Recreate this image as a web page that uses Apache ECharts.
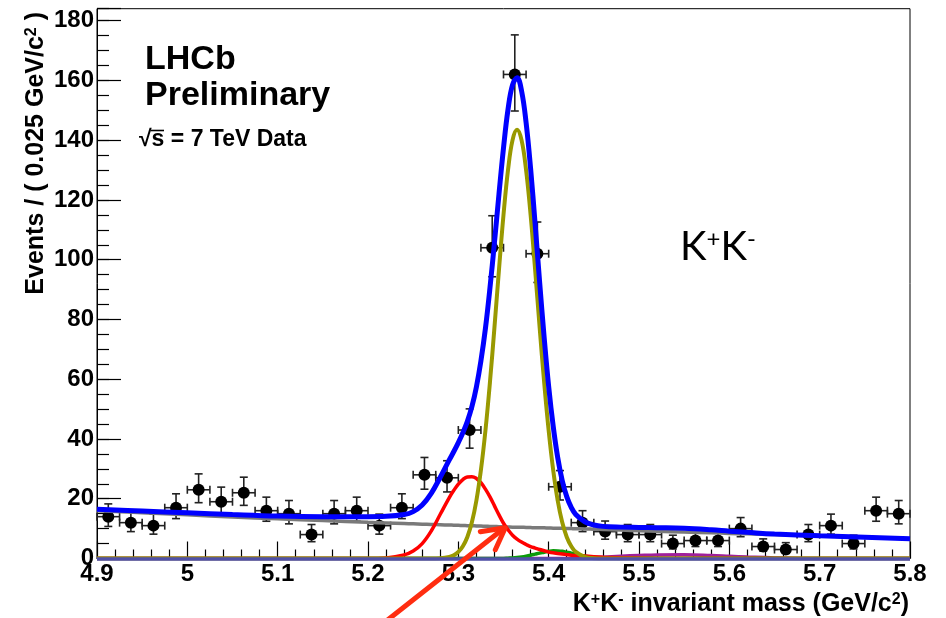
<!DOCTYPE html>
<html>
<head>
<meta charset="utf-8">
<script src="https://cdn.jsdelivr.net/npm/echarts@6/dist/echarts.min.js"></script>
<style>
  html, body { margin: 0; padding: 0; background: #ffffff; }
  #chart { width: 946px; height: 618px; }
</style>
</head>
<body>
<div id="chart"></div>
<script>
// Binned K+K- candidates, 0.025 GeV/c^2 per bin
const binCenters = [4.9125, 4.9375, 4.9625, 4.9875, 5.0125, 5.0375, 5.0625, 5.0875, 5.1125,
  5.1375, 5.1625, 5.1875, 5.2125, 5.2375, 5.2625, 5.2875, 5.3125, 5.3375, 5.3625, 5.3875,
  5.4125, 5.4375, 5.4625, 5.4875, 5.5125, 5.5375, 5.5625, 5.5875, 5.6125, 5.6375, 5.6625,
  5.6875, 5.7125, 5.7375, 5.7625, 5.7875];
const binCounts = [14, 12, 11, 17, 23, 19, 22, 16, 15, 8, 15, 16, 11, 17, 28, 27, 43, 104,
  162, 102, 24, 12, 9, 8, 8, 5, 6, 6, 10, 4, 3, 8, 11, 5, 16, 15];
const binHalfWidth = 0.0125;

// Fit projections sampled along the mass axis
const fitMass = [4.90, 4.95, 5.00, 5.05, 5.10, 5.15, 5.20, 5.22, 5.24, 5.25, 5.26, 5.27, 5.28, 5.29,
  5.295, 5.30, 5.305, 5.31, 5.315, 5.32, 5.325, 5.33, 5.335, 5.34, 5.345, 5.35, 5.355, 5.36,
  5.365, 5.37, 5.375, 5.38, 5.385, 5.39, 5.395, 5.40, 5.405, 5.41, 5.415, 5.42, 5.425, 5.43,
  5.44, 5.45, 5.46, 5.48, 5.50, 5.52, 5.55, 5.58, 5.60, 5.62, 5.65, 5.70, 5.75, 5.80];
const fitTotal = [16.5, 15.9, 15.3, 14.7, 14.2, 14.0, 14.0, 14.1, 14.7, 15.7, 17.9, 21.8, 27.2, 33.0,
  35.8, 38.8, 42.1, 45.9, 50.8, 57.4, 66.1, 77.0, 90.5, 105.8, 122.0, 137.4, 150.3, 158.5,
  160.9, 156.5, 145.9, 130.5, 112.0, 92.5, 74.0, 57.6, 44.3, 33.8, 26.1, 20.7, 17.1, 14.7,
  12.3, 11.2, 10.75, 10.5, 10.4, 10.3, 10.1, 9.6, 9.15, 8.75, 8.2, 7.6, 7.1, 6.6];
const fitBsKK = [0, 0, 0, 0, 0, 0, 0, 0, 0, 0, 0, 0, 0.1, 0.55,
  1.1, 2.2, 4.1, 7.2, 12.1, 19.4, 29.6, 42.8, 59.0, 77.4, 96.7, 115.0, 130.0, 140.0,
  143.5, 140.0, 130.0, 115.0, 96.7, 77.4, 59.0, 42.8, 29.6, 19.4, 12.1, 7.2, 4.1, 2.2,
  0.55, 0.1, 0, 0, 0, 0, 0, 0, 0, 0, 0, 0, 0, 0];
const fitBdKK = [0, 0, 0, 0, 0, 0, 0, 0.2, 1.2, 2.5, 5.0, 9.2, 14.8, 20.4,
  22.8, 24.9, 26.4, 27.3, 27.4, 26.8, 25.4, 23.2, 20.6, 17.6, 14.6, 11.8, 9.6, 7.8,
  6.5, 5.5, 4.7, 4.0, 3.5, 3.0, 2.6, 2.2, 1.9, 1.7, 1.5, 1.3, 1.1, 1.0,
  0.8, 0.6, 0.45, 0.25, 0.1, 0, 0, 0, 0, 0, 0, 0, 0, 0];
const fitCombinatorial = [16.0, 15.3, 14.6, 13.9, 13.3, 12.7, 12.1, 11.9, 11.7, 11.6, 11.5, 11.4, 11.3, 11.2,
  11.15, 11.1, 11.05, 11.0, 10.95, 10.9, 10.85, 10.8, 10.75, 10.7, 10.65, 10.6, 10.55, 10.5,
  10.5, 10.45, 10.4, 10.35, 10.3, 10.3, 10.25, 10.2, 10.15, 10.1, 10.1, 10.05, 10.0, 9.95,
  9.9, 9.8, 9.7, 9.5, 9.3, 9.1, 8.85, 8.6, 8.4, 8.25, 8.0, 7.6, 7.1, 6.6];
const fitPeakingBkg = [0, 0, 0, 0, 0, 0, 0, 0, 0, 0, 0, 0, 0, 0,
  0, 0, 0, 0, 0, 0, 0, 0, 0, 0, 0, 0, 0.1, 0.2,
  0.35, 0.55, 0.8, 1.1, 1.45, 1.8, 2.1, 2.4, 2.6, 2.55, 2.4, 2.1, 1.8, 1.45,
  0.8, 0.4, 0.15, 0, 0, 0, 0, 0, 0, 0, 0, 0, 0, 0];
const fitPartialBkg = [0, 0, 0, 0, 0, 0, 0, 0, 0, 0, 0, 0, 0, 0,
  0, 0, 0, 0, 0, 0, 0, 0, 0, 0, 0, 0, 0, 0,
  0, 0, 0, 0, 0, 0, 0, 0, 0, 0, 0, 0, 0.05, 0.1,
  0.2, 0.3, 0.45, 0.75, 1.0, 1.2, 1.25, 1.0, 0.75, 0.5, 0.2, 0, 0, 0];

// Axis ranges and tick spacing
const massMin = 4.9, massMax = 5.8, massStep = 0.1;
const eventsMin = 0, eventsMax = 184, eventsStep = 20, eventsMinorStep = 5;

// Arrow pointing at the crossing of the B0 tail and the combinatorial line
const arrowTip = [5.352, 10.3];

const FONT = '"Liberation Sans", Arial, Helvetica, sans-serif';

// Asymmetric Poisson interval for a bin count
function poissonBand(n) {
  const s = Math.sqrt(n + 0.25);
  return [n - s + 0.5, n + s + 0.5];
}

const pointData = binCenters.map((m, i) => {
  const band = poissonBand(binCounts[i]);
  return [m, binCounts[i], band[0], band[1]];
});

const curve = ys => fitMass.map((m, i) => [m, ys[i]]);

function renderPoint(params, api) {
  const m = api.value(0), n = api.value(1), lo = api.value(2), hi = api.value(3);
  const c = api.coord([m, n]);
  const l = api.coord([m - binHalfWidth, n]);
  const r = api.coord([m + binHalfWidth, n]);
  const t = api.coord([m, hi]);
  const b = api.coord([m, lo]);
  const stroke = { stroke: '#222', lineWidth: 1.6 };
  const cap = 4;
  return {
    type: 'group',
    children: [
      { type: 'line', shape: { x1: c[0], y1: t[1], x2: c[0], y2: b[1] }, style: stroke },
      { type: 'line', shape: { x1: l[0], y1: c[1], x2: r[0], y2: c[1] }, style: stroke },
      { type: 'line', shape: { x1: c[0] - cap, y1: t[1], x2: c[0] + cap, y2: t[1] }, style: stroke },
      { type: 'line', shape: { x1: c[0] - cap, y1: b[1], x2: c[0] + cap, y2: b[1] }, style: stroke },
      { type: 'line', shape: { x1: l[0], y1: c[1] - cap, x2: l[0], y2: c[1] + cap }, style: stroke },
      { type: 'line', shape: { x1: r[0], y1: c[1] - cap, x2: r[0], y2: c[1] + cap }, style: stroke },
      { type: 'circle', shape: { cx: c[0], cy: c[1], r: 6 }, style: { fill: '#000' } }
    ]
  };
}

function fitLine(name, ys, color, width, z) {
  return {
    name, type: 'line', data: curve(ys), showSymbol: false, smooth: 0.4,
    lineStyle: { color, width }, z, silent: true, animation: false
  };
}

const chart = echarts.init(document.getElementById('chart'), null, { renderer: 'canvas' });

const totalSeries = fitLine('total', fitTotal, '#0000ff', 5, 4);
totalSeries.clip = false;
// zero-level background components drawn as one band along the axis
totalSeries.markLine = {
  silent: true, symbol: 'none', animation: false, label: { show: false },
  lineStyle: { color: '#5050a8', width: 3.5, type: 'solid', opacity: 1 },
  emphasis: { disabled: true },
  data: [{ yAxis: 0 }]
};

chart.setOption({
  animation: false,
  grid: { left: 97, right: 36, top: 8.7, bottom: 59.5, show: true, borderColor: '#000', borderWidth: 1 },
  xAxis: {
    type: 'value', min: massMin, max: massMax, interval: massStep,
    axisLine: { show: true, lineStyle: { color: '#000', width: 1 } },
    axisTick: { show: true, inside: true, length: 17, lineStyle: { color: '#000', width: 1.2 } },
    minorTick: { show: true, splitNumber: 5, length: 9, lineStyle: { color: '#000', width: 1.2 } },
    axisLabel: { color: '#000', fontFamily: FONT, fontWeight: 'bold', fontSize: 24, margin: 4 },
    splitLine: { show: false }
  },
  yAxis: [
    {
      type: 'value', min: eventsMin, max: eventsMax, interval: eventsStep,
      axisLine: { show: true, lineStyle: { color: '#000', width: 1 } },
      axisTick: { show: true, inside: true, length: 24, lineStyle: { color: '#000', width: 1.2 } },
      axisLabel: {
        color: '#000', fontFamily: FONT, fontWeight: 'bold', fontSize: 24, margin: 3,
        formatter: v => (v % eventsStep === 0 ? String(v) : '')
      },
      splitLine: { show: false }
    },
    {
      type: 'value', min: eventsMin, max: eventsMax, interval: eventsMinorStep, position: 'left',
      axisLine: { show: false },
      axisTick: { show: true, inside: true, length: 12, lineStyle: { color: '#000', width: 1.2 } },
      axisLabel: { show: false },
      splitLine: { show: false }
    }
  ],
  series: [
    {
      name: 'data', type: 'custom', renderItem: renderPoint, data: pointData, z: 1,
      encode: { x: 0, y: 1 }, silent: true, animation: false
    },
    fitLine('combinatorial', fitCombinatorial, '#7a7a7a', 3.5, 2),
    fitLine('partially reconstructed', fitPartialBkg, '#a0209a', 3.5, 2),
    fitLine('peaking background', fitPeakingBkg, '#0a9a0a', 3.5, 2),
    fitLine('B0', fitBdKK, '#ff0000', 3.5, 2),
    fitLine('Bs', fitBsKK, '#999900', 4, 2),
    totalSeries
  ]
});

const tip = chart.convertToPixel({ gridIndex: 0 }, arrowTip);
const arrowRed = '#ff2d10';

chart.setOption({
  graphic: [
    {
      type: 'text', left: 145, top: 43,
      style: { text: 'LHCb', fill: '#000', font: 'bold 34px ' + FONT }
    },
    {
      type: 'text', left: 145, top: 79,
      style: { text: 'Preliminary', fill: '#000', font: 'bold 34px ' + FONT }
    },
    {
      type: 'text', left: 139, top: 128,
      style: { text: '\u221As = 7 TeV Data', fill: '#000', font: 'bold 23px ' + FONT }
    },
    {
      // vinculum of the square-root sign over "s"
      type: 'line',
      shape: { x1: 150.5, y1: 130.5, x2: 164, y2: 130.5 },
      style: { stroke: '#000', lineWidth: 1.6 }
    },
    {
      type: 'text', x: 680, y: 247,
      style: {
        text: '{k|K}{s|+}{k|K}{s|-}', verticalAlign: 'middle', align: 'left',
        rich: {
          k: { fontFamily: 'Lato, "Open Sans", sans-serif', fontSize: 40, fill: '#000' },
          s: { fontFamily: 'Lato, "Open Sans", sans-serif', fontSize: 24, fill: '#000', verticalAlign: 'top' }
        }
      }
    },
    {
      type: 'text', x: 909, y: 604,
      style: {
        text: '{t|K}{s|+}{t|K}{s|-}{t| invariant mass (GeV/c}{s|2}{t|)}',
        align: 'right', verticalAlign: 'middle',
        rich: {
          t: { fontFamily: FONT, fontWeight: 'bold', fontSize: 25, fill: '#000' },
          s: { fontFamily: FONT, fontWeight: 'bold', fontSize: 16, fill: '#000', verticalAlign: 'top' }
        }
      }
    },
    {
      type: 'text', x: 36, y: 12, rotation: Math.PI / 2,
      style: {
        text: '{t|Events / ( 0.025 GeV/c}{s|2}{t| )}',
        align: 'right', verticalAlign: 'middle',
        rich: {
          t: { fontFamily: FONT, fontWeight: 'bold', fontSize: 25, fill: '#000' },
          s: { fontFamily: FONT, fontWeight: 'bold', fontSize: 16, fill: '#000', verticalAlign: 'top' }
        }
      }
    },
    {
      type: 'line', z: 10,
      shape: { x1: tip[0] - 125, y1: tip[1] + 98, x2: tip[0] - 2, y2: tip[1] + 1 },
      style: { stroke: arrowRed, lineWidth: 5, lineCap: 'round' }
    },
    {
      type: 'polyline', z: 10,
      shape: { points: [[tip[0] - 25, tip[1] + 4], [tip[0], tip[1]], [tip[0] - 10, tip[1] + 22]] },
      style: { stroke: arrowRed, lineWidth: 5, lineCap: 'round', lineJoin: 'round', fill: null }
    }
  ]
});
</script>
</body>
</html>
